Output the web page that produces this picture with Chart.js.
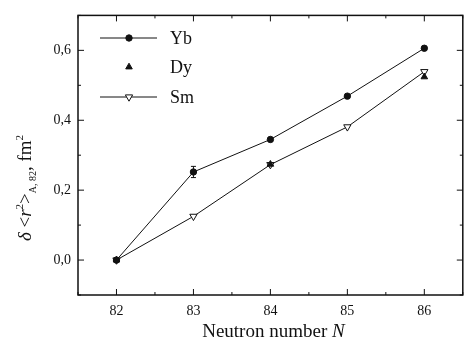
<!DOCTYPE html>
<html>
<head>
<meta charset="utf-8">
<script src="https://cdn.jsdelivr.net/npm/chart.js@4.4.0/dist/chart.umd.min.js"></script>
<style>
  html, body { margin: 0; padding: 0; background: #fff; }
  #wrap { width: 468px; height: 350px; }
</style>
</head>
<body>
<div id="wrap"><canvas id="shift"></canvas></div>
<script>
// neutron numbers and isotope shifts (fm^2)
const nNumbers = [82, 83, 84, 85, 86];
const ybShift = [0, 0.252, 0.345, 0.469, 0.606];
const ybErr = [0, 0.016, 0, 0, 0];
const dyN = [82, 84, 86];
const dyShift = [0, 0.274, 0.524];
const smShift = [0, 0.125, 0.273, 0.381, 0.539];
const yTicks = [0, 0.2, 0.4, 0.6];

const SERIF = "Liberation Serif, serif";
const INK = "#111";

const toPoints = (xs, ys) => xs.map((x, i) => ({x: x, y: ys[i]}));

// draws a run of differently styled text pieces centred on 0
function drawRun(ctx, parts) {
    let total = 0;
    parts.forEach(p => { ctx.font = p.f + " " + SERIF; p.w = ctx.measureText(p.t).width; total += p.w; });
    let x = -total / 2;
    parts.forEach(p => {
        ctx.font = p.f + " " + SERIF;
        ctx.fillText(p.t, x, p.dy || 0);
        x += p.w;
    });
}

// frame, inward ticks, error bars, legend and axis titles
const decor = {
    id: "decor",
    afterDatasetsDraw(chart) {
        const ctx = chart.ctx;
        const a = chart.chartArea;
        const xs = chart.scales.x, ys = chart.scales.y;
        ctx.save();
        ctx.strokeStyle = INK;
        ctx.lineWidth = 1.5;
        ctx.strokeRect(a.left, a.top, a.right - a.left, a.bottom - a.top);

        ctx.lineWidth = 1;
        ctx.beginPath();
        for (let v = 81.5; v <= 86.5; v += 0.5) {
            const px = xs.getPixelForValue(v);
            const len = Number.isInteger(v) ? 6 : 3;
            ctx.moveTo(px, a.bottom); ctx.lineTo(px, a.bottom - len);
            ctx.moveTo(px, a.top); ctx.lineTo(px, a.top + len);
        }
        for (let k = -1; k <= 7; k++) {
            const py = ys.getPixelForValue(k / 10);
            const len = k % 2 === 0 ? 6 : 3;
            ctx.moveTo(a.left, py); ctx.lineTo(a.left + len, py);
            ctx.moveTo(a.right, py); ctx.lineTo(a.right - len, py);
        }
        ctx.stroke();

        // error bars on Yb
        ctx.beginPath();
        nNumbers.forEach((n, i) => {
            if (!ybErr[i]) return;
            const px = xs.getPixelForValue(n);
            const y1 = ys.getPixelForValue(ybShift[i] - ybErr[i]);
            const y2 = ys.getPixelForValue(ybShift[i] + ybErr[i]);
            ctx.moveTo(px, y1); ctx.lineTo(px, y2);
            ctx.moveTo(px - 2.5, y1); ctx.lineTo(px + 2.5, y1);
            ctx.moveTo(px - 2.5, y2); ctx.lineTo(px + 2.5, y2);
        });
        ctx.stroke();

        // legend
        const rows = [38, 67, 97];
        chart.data.datasets.forEach((ds, i) => {
            const y = rows[i];
            ctx.strokeStyle = INK;
            ctx.lineWidth = 1;
            if (ds.showLine !== false) {
                ctx.beginPath();
                ctx.moveTo(100, y); ctx.lineTo(157, y);
                ctx.stroke();
            }
            ctx.fillStyle = ds.pointBackgroundColor;
            Chart.helpers.drawPoint(ctx, {
                pointStyle: ds.pointStyle,
                radius: ds.pointRadius,
                rotation: ds.pointRotation || 0,
                borderWidth: 1
            }, 129, y);
            ctx.fillStyle = INK;
            ctx.font = "18px " + SERIF;
            ctx.textBaseline = "middle";
            ctx.textAlign = "left";
            ctx.fillText(ds.label, 170, y + 1);
        });

        ctx.fillStyle = INK;
        ctx.textBaseline = "alphabetic";
        ctx.textAlign = "left";

        // x title with italic N
        ctx.save();
        ctx.translate((a.left + a.right) / 2 + 3, 337);
        drawRun(ctx, [
            {t: "Neutron number ", f: "19px"},
            {t: "N", f: "italic 19px"}
        ]);
        ctx.restore();

        // rotated y title: δ<r²>_{A, 82}, fm²
        ctx.translate(31, 188);
        ctx.rotate(-Math.PI / 2);
        drawRun(ctx, [
            {t: "δ", f: "italic 19px"},
            {t: " <", f: "19px"},
            {t: "r", f: "italic 19px"},
            {t: "2", f: "11px", dy: -8},
            {t: ">", f: "19px"},
            {t: "A, 82", f: "10px", dy: 5},
            {t: ", fm", f: "19px"},
            {t: "2", f: "11px", dy: -8}
        ]);
        ctx.restore();
    }
};

new Chart("shift", {
    type: "scatter",
    data: {
        datasets: [{
            label: "Yb",
            data: toPoints(nNumbers, ybShift),
            showLine: true,
            borderColor: INK,
            borderWidth: 1,
            pointStyle: "circle",
            pointRadius: 3.2,
            pointBackgroundColor: INK,
            pointBorderColor: INK
        }, {
            label: "Dy",
            data: toPoints(dyN, dyShift),
            showLine: false,
            pointStyle: "triangle",
            pointRadius: 3.8,
            pointBackgroundColor: INK,
            pointBorderColor: INK,
            pointBorderWidth: 1
        }, {
            label: "Sm",
            data: toPoints(nNumbers, smShift),
            showLine: true,
            borderColor: INK,
            borderWidth: 1,
            pointStyle: "triangle",
            pointRotation: 180,
            pointRadius: 4.2,
            pointBackgroundColor: "#fff",
            pointBorderColor: INK,
            pointBorderWidth: 1
        }]
    },
    options: {
        responsive: true,
        maintainAspectRatio: false,
        animation: false,
        layout: {padding: {top: 12, right: 3, left: 0, bottom: 0}},
        plugins: {legend: {display: false}, tooltip: {enabled: false}},
        scales: {
            x: {
                type: "linear",
                min: 81.5, max: 86.5,
                afterBuildTicks: s => { s.ticks = nNumbers.map(v => ({value: v})); },
                afterFit: s => { s.height = 55; },
                grid: {display: false, drawTicks: false},
                border: {display: false},
                ticks: {
                    padding: 8,
                    color: INK,
                    font: {family: SERIF, size: 14},
                    callback: v => String(v)
                }
            },
            y: {
                type: "linear",
                min: -0.1, max: 0.7,
                afterBuildTicks: s => { s.ticks = yTicks.map(v => ({value: v})); },
                afterFit: s => { s.width = 78; },
                grid: {display: false, drawTicks: false},
                border: {display: false},
                ticks: {
                    padding: 7,
                    color: INK,
                    font: {family: SERIF, size: 14},
                    callback: v => v.toFixed(1).replace(".", ",")
                }
            }
        }
    },
    plugins: [decor]
});
</script>
</body>
</html>
